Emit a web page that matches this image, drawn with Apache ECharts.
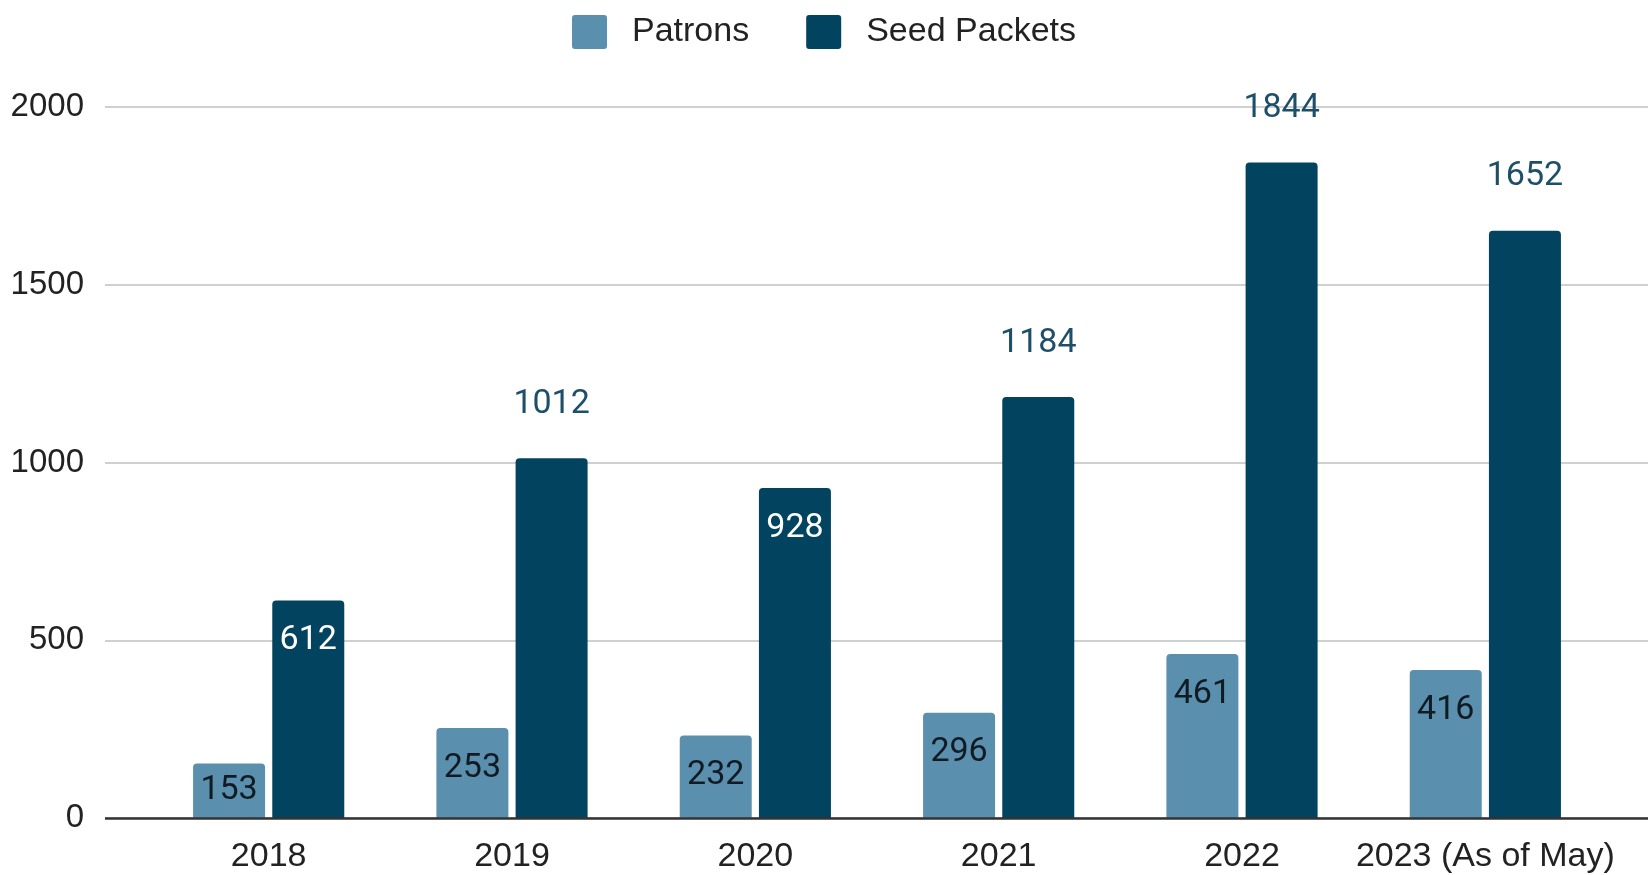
<!DOCTYPE html>
<html>
<head>
<meta charset="utf-8">
<script src="https://cdn.jsdelivr.net/npm/echarts@6/dist/echarts.min.js"></script>
<style>
html,body{margin:0;padding:0;background:#fff;}
#chart{width:1648px;height:875px;}
</style>
</head>
<body>
<div id="chart"></div>
<script>
const categories = ["2018", "2019", "2020", "2021", "2022", "2023 (As of May)"];
const patrons = [153, 253, 232, 296, 461, 416];
const seedPackets = [612, 1012, 928, 1184, 1844, 1652];
const yTicks = [0, 500, 1000, 1500, 2000];

const PATRON_COLOR = "#5a8fad";
const SEED_COLOR = "#02435f";
const AXIS_FONT = "'Liberation Sans', Arial, sans-serif";
const LABEL_FONT = "Roboto, 'Liberation Sans', sans-serif";
const LEGEND_ICON = "path://M3,0 H32 Q35,0 35,3 V31 Q35,34 32,34 H3 Q0,34 0,31 V3 Q0,0 3,0 Z";

function patronItem(v) {
  const short = v < 200;
  return {
    value: v,
    label: {
      position: short ? "inside" : "insideTop",
      distance: 23,
      color: "#111b24"
    }
  };
}
function seedItem(v) {
  const inside = v < 1000;
  return {
    value: v,
    label: inside
      ? { position: "insideTop", distance: 23, color: "#ffffff" }
      : { position: "top", distance: 37, color: "#1d4f69" }
  };
}

const chart = echarts.init(document.getElementById("chart"));
chart.setOption({
  backgroundColor: "#ffffff",
  animation: false,
  legend: {
    top: 10,
    left: "center",
    itemWidth: 35,
    itemHeight: 34,
    itemGap: 57,
    icon: LEGEND_ICON,
    textStyle: {
      fontFamily: AXIS_FONT,
      fontSize: 34,
      color: "#222222",
      padding: [0, 0, 0, 20]
    },
    data: ["Patrons", "Seed Packets"]
  },
  grid: [
    { left: 105, right: 0, top: 107, bottom: 57 },
    { left: 147, right: 41, top: 107, bottom: 57 }
  ],
  xAxis: [
    {
      gridIndex: 0,
      type: "value",
      min: 0, max: 1,
      axisLine: { show: false },
      axisTick: { show: false },
      axisLabel: { show: false },
      splitLine: { show: false }
    },
    {
      gridIndex: 1,
      type: "category",
      data: categories,
      axisLine: { show: false },
      axisTick: { show: false },
      axisLabel: {
        interval: 0,
        fontFamily: AXIS_FONT,
        fontSize: 34,
        color: "#222222",
        margin: 22
      }
    }
  ],
  yAxis: [
    {
      gridIndex: 0,
      type: "value",
      min: yTicks[0],
      max: yTicks[yTicks.length - 1],
      interval: yTicks[1] - yTicks[0],
      axisLine: { show: false },
      axisTick: { show: false },
      axisLabel: {
        formatter: function (v) { return String(v); },
        fontFamily: AXIS_FONT,
        fontSize: 33,
        color: "#222222",
        margin: 21
      },
      splitLine: { lineStyle: { color: "#d0d0d0", width: 2 } }
    },
    {
      gridIndex: 1,
      type: "value",
      min: yTicks[0],
      max: yTicks[yTicks.length - 1],
      axisLine: { show: false },
      axisTick: { show: false },
      axisLabel: { show: false },
      splitLine: { show: false }
    }
  ],
  series: [
    {
      type: "line",
      xAxisIndex: 0,
      yAxisIndex: 0,
      data: [],
      silent: true,
      markLine: {
        symbol: "none",
        silent: true,
        label: { show: false },
        lineStyle: { color: "#333333", width: 2.5, type: "solid" },
        data: [{ yAxis: 0 }]
      }
    },
    {
      name: "Patrons",
      type: "bar",
      xAxisIndex: 1,
      yAxisIndex: 1,
      barWidth: 72,
      barGap: "10%",
      itemStyle: { color: PATRON_COLOR, borderRadius: [4, 4, 0, 0] },
      label: {
        show: true,
        fontFamily: LABEL_FONT,
        fontSize: 34
      },
      data: patrons.map(patronItem),
      z: 3
    },
    {
      name: "Seed Packets",
      type: "bar",
      xAxisIndex: 1,
      yAxisIndex: 1,
      barWidth: 72,
      barGap: "10%",
      itemStyle: { color: SEED_COLOR, borderRadius: [4, 4, 0, 0] },
      label: {
        show: true,
        fontFamily: LABEL_FONT,
        fontSize: 34
      },
      data: seedPackets.map(seedItem),
      z: 3
    }
  ]
});
</script>
</body>
</html>
